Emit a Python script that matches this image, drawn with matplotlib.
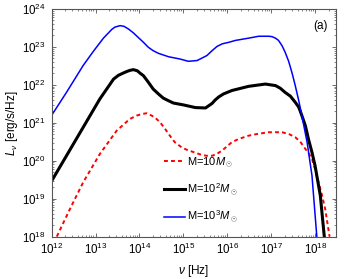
import numpy as np
import matplotlib
matplotlib.use("Agg")
import matplotlib.pyplot as plt
from matplotlib.ticker import NullFormatter, FixedLocator

plt.rcParams['font.family'] = ['Liberation Sans', 'DejaVu Sans']
plt.rcParams['mathtext.fontset'] = 'custom'
plt.rcParams['mathtext.rm'] = 'Liberation Sans'
plt.rcParams['mathtext.it'] = 'Liberation Sans:italic'

# log10(nu [Hz]) and log10(L_nu [erg/s/Hz])
blue_lognu = [12.0, 12.34, 12.72, 12.95, 13.18, 13.37, 13.44, 13.56, 13.65, 13.75, 13.86,
              13.97, 14.09, 14.20, 14.31, 14.43, 14.66, 14.92, 15.11, 15.31, 15.53, 15.65,
              15.76, 15.88, 16.03, 16.18, 16.48, 16.71, 16.94, 17.01, 17.09, 17.16, 17.24,
              17.31, 17.39, 17.47, 17.54, 17.62, 17.69, 17.81, 17.92, 18.03]
blue_logL = [21.19, 21.80, 22.51, 22.88, 23.23, 23.46, 23.52, 23.56, 23.54, 23.47, 23.37,
             23.25, 23.12, 22.99, 22.90, 22.83, 22.74, 22.68, 22.62, 22.64, 22.77, 22.90,
             23.01, 23.08, 23.12, 23.17, 23.23, 23.28, 23.28, 23.27, 23.23, 23.17, 23.03,
             22.86, 22.62, 22.30, 21.98, 21.58, 21.19, 20.48, 19.61, 18.0]

black_lognu = [12.0, 12.34, 12.72, 13.10, 13.41, 13.52, 13.63, 13.71, 13.78, 13.86, 13.95,
               14.01, 14.09, 14.20, 14.31, 14.43, 14.54, 14.66, 14.77, 15.0, 15.27, 15.50,
               15.65, 15.72, 15.80, 15.91, 16.10, 16.48, 16.86, 17.09, 17.20, 17.31, 17.43,
               17.54, 17.62, 17.69, 17.77, 17.84, 17.92, 17.99, 18.11, 18.20]
black_logL = [19.46, 20.13, 20.88, 21.63, 22.15, 22.25, 22.31, 22.35, 22.38, 22.40, 22.37,
              22.31, 22.24, 22.07, 21.89, 21.76, 21.65, 21.58, 21.52, 21.47, 21.40, 21.39,
              21.51, 21.60, 21.68, 21.76, 21.85, 21.96, 22.02, 21.98, 21.91, 21.80, 21.70,
              21.54, 21.41, 21.19, 20.92, 20.57, 20.22, 19.87, 19.08, 18.0]

red_lognu = [12.12, 12.42, 12.72, 13.10, 13.48, 13.78, 13.94, 14.05, 14.16, 14.24, 14.35,
             14.47, 14.58, 14.69, 14.80, 14.96, 15.07, 15.22, 15.42, 15.53, 15.65, 15.76,
             15.88, 15.99, 16.10, 16.25, 16.48, 16.70, 16.94, 17.24, 17.40, 17.54, 17.66,
             17.77, 17.84, 17.92, 17.99, 18.07, 18.15, 18.22, 18.32]
red_logL = [18.0, 18.73, 19.43, 20.18, 20.79, 21.10, 21.19, 21.23, 21.25, 21.21, 21.14,
            21.01, 20.84, 20.66, 20.49, 20.35, 20.29, 20.23, 20.15, 20.13, 20.13, 20.18,
            20.27, 20.38, 20.49, 20.57, 20.66, 20.71, 20.75, 20.75, 20.70, 20.62, 20.49,
            20.31, 20.20, 20.05, 19.78, 19.43, 19.08, 18.73, 18.0]

labels = [r"M=10$M_\odot$", r"M=10$^2$$M_\odot$", r"M=10$^3$$M_\odot$"]
x_tick_exponents = [12, 13, 14, 15, 16, 17, 18]
y_tick_exponents = [18, 19, 20, 21, 22, 23, 24]

fig = plt.figure(figsize=(3.48, 2.79), dpi=100)
ax = fig.add_axes([0.148, 0.152, 0.818, 0.816])

def p(a):
    return 10.0 ** np.asarray(a)

ax.plot(p(red_lognu), p(red_logL), color='#ff0000', lw=1.4, ls=(0, (2, 1.6)),
        label=labels[0])
ax.plot(p(black_lognu), p(black_logL), color='black', lw=2.2, solid_joinstyle='round',
        label=labels[1])
ax.plot(p(blue_lognu), p(blue_logL), color='#0000ff', lw=1.1, solid_joinstyle='round',
        label=labels[2])

ax.set_xscale('log')
ax.set_yscale('log')
ax.set_xlim(1e12, 10 ** 18.47)
ax.set_ylim(1e18, 1e24)

ax.set_xticks(p(x_tick_exponents))
ax.set_yticks(p(y_tick_exponents))
xminor = [m * 10.0 ** e for e in range(12, 19) for m in range(2, 10) if m * 10.0 ** e < 10 ** 18.47]
yminor = [m * 10.0 ** e for e in range(18, 24) for m in range(2, 10)]
ax.xaxis.set_minor_locator(FixedLocator(xminor))
ax.yaxis.set_minor_locator(FixedLocator(yminor))
ax.xaxis.set_minor_formatter(NullFormatter())
ax.yaxis.set_minor_formatter(NullFormatter())

ax.tick_params(which='both', direction='in', top=True, right=True, colors='#555555',
               labelcolor='black', labelsize=8.3)
ax.tick_params(which='major', length=3, width=0.6, pad=4)
ax.tick_params(which='minor', length=1.5, width=0.5)
for s in ax.spines.values():
    s.set_color('#555555')
    s.set_linewidth(0.8)

ax.set_xlabel(r"$\nu$ [Hz]", fontsize=8.5, labelpad=4)
ax.set_ylabel(r"$L_\nu$ [erg/s/Hz]", fontsize=8.5, labelpad=2)

ax.text(0.97, 0.95, "(a)", transform=ax.transAxes, ha='right', va='top', fontsize=8.5)

leg = ax.legend(loc='lower left', bbox_to_anchor=(0.38, 0.03), frameon=False, fontsize=8,
                handlelength=1.9, handletextpad=0.15, labelspacing=1.05, borderaxespad=0)

fig.savefig("out.png", dpi=100)
